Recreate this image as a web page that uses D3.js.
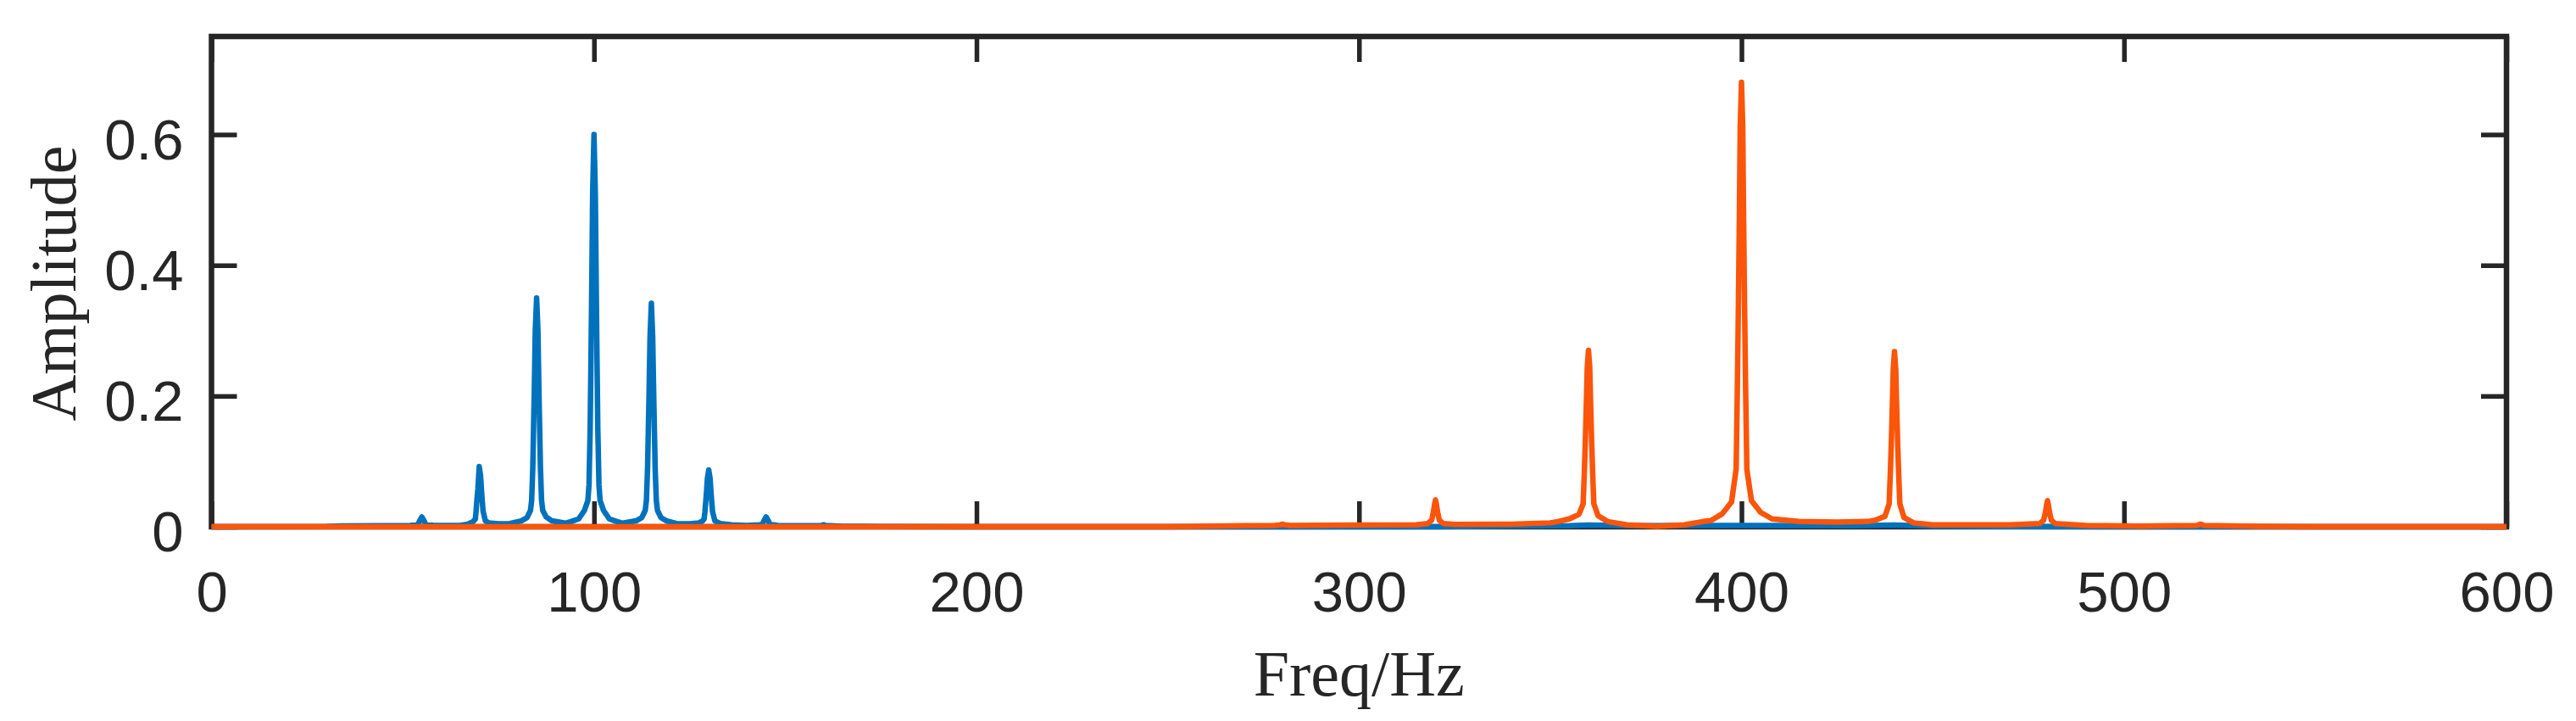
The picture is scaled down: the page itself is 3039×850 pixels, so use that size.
<!DOCTYPE html>
<html>
<head>
<meta charset="utf-8">
<script src="https://cdn.jsdelivr.net/npm/d3@7"></script>
<style>
	html, body { margin: 0; padding: 0; background: #fff; }
	svg { display: block; }
</style>
</head>
<body>
<div id="chart"></div>
<script>
// tick values
const xTicks = [0, 100, 200, 300, 400, 500, 600]
const yTicks = [0, 0.2, 0.4, 0.6]

// blue spectrum, [Hz, amplitude]
const blueSpectrum = [
	[0, 0], [30, 0.0003], [34, 0.0012], [45, 0.0015], [52, 0.002],
	[54, 0.004], [54.6, 0.011], [55, 0.015], [55.4, 0.011], [56, 0.004], [58, 0.002],
	[65, 0.002], [67, 0.004], [68.4, 0.008], [69, 0.012], [69.2, 0.026], [69.4, 0.042],
	[69.65, 0.058], [70, 0.092], [70.35, 0.078], [70.6, 0.055], [70.8, 0.039], [71, 0.024],
	[71.6, 0.009], [72.5, 0.006], [75, 0.0045], [78, 0.005],
	[81, 0.009], [82.5, 0.014], [83.4, 0.025], [83.7, 0.04], [84, 0.09], [84.2, 0.15],
	[84.4, 0.21], [84.65, 0.3], [85, 0.35], [85.35, 0.3], [85.6, 0.21], [85.8, 0.15],
	[86, 0.09], [86.3, 0.04], [86.6, 0.025], [87.5, 0.015], [89, 0.009], [92.5, 0.0055],
	[94, 0.008], [96, 0.012], [97.5, 0.025], [98.4, 0.04], [98.7, 0.064], [99, 0.15],
	[99.2, 0.25], [99.4, 0.36], [99.65, 0.51], [100, 0.6], [100.35, 0.51], [100.6, 0.36],
	[100.8, 0.25], [101, 0.15], [101.3, 0.064], [101.6, 0.04], [102.5, 0.025], [104, 0.012],
	[106, 0.008], [107.5, 0.0055],
	[111, 0.009], [112.5, 0.014], [113.4, 0.025], [113.7, 0.04], [114, 0.088], [114.2, 0.146],
	[114.4, 0.205], [114.65, 0.29], [115, 0.342], [115.35, 0.29], [115.6, 0.205], [115.8, 0.146],
	[116, 0.088], [116.3, 0.04], [116.6, 0.025], [117.5, 0.014], [119, 0.009], [122, 0.0045],
	[125, 0.0045], [127.5, 0.006], [128.4, 0.009], [128.8, 0.012], [129, 0.023], [129.2, 0.037],
	[129.4, 0.052], [129.65, 0.074], [130, 0.087], [130.35, 0.074], [130.6, 0.052], [130.8, 0.037],
	[131, 0.023], [131.6, 0.009], [133, 0.005], [136, 0.003], [140, 0.002],
	[143, 0.003], [144, 0.004], [144.6, 0.011], [145, 0.015], [145.4, 0.011], [146, 0.004],
	[148, 0.002], [155, 0.0015], [159.5, 0.002], [160, 0.003], [160.5, 0.002], [165, 0.0008],
	[175, 0.0003], [200, 0], [320, 0], [340, 0.001], [355, 0.0015], [360, 0.0025], [370, 0.0015],
	[400, 0.002], [430, 0.0015], [440, 0.0025], [450, 0.001], [470, 0.0003], [500, 0], [600, 0]
]

// orange spectrum, [Hz, amplitude]
const orangeSpectrum = [
	[0, 0], [250, 0], [270, 0.0015], [278, 0.002], [279.5, 0.003], [280, 0.004], [280.5, 0.003],
	[282, 0.002], [300, 0.0025], [315, 0.003], [318, 0.005], [319, 0.01], [319.5, 0.024],
	[319.75, 0.034], [320, 0.041], [320.25, 0.034], [320.5, 0.024], [321, 0.01], [322, 0.005],
	[325, 0.0035], [340, 0.004], [350, 0.006], [352, 0.008], [355, 0.012], [357.5, 0.019],
	[358.6, 0.035], [358.9, 0.08], [359.2, 0.135], [359.45, 0.19], [359.67, 0.243], [360, 0.27],
	[360.33, 0.243], [360.55, 0.19], [360.8, 0.135], [361.1, 0.08], [361.4, 0.035], [362.5, 0.017],
	[365, 0.008], [370, 0.003], [378, 0.0005], [385, 0.003], [390, 0.008],
	[392, 0.0095], [395, 0.02], [397.4, 0.038], [398.6, 0.088], [398.9, 0.204], [399.2, 0.34],
	[399.45, 0.476], [399.67, 0.612], [400, 0.68], [400.33, 0.612], [400.55, 0.476], [400.8, 0.34],
	[401.1, 0.204], [401.4, 0.088], [402.6, 0.04], [405, 0.022], [408, 0.012], [415, 0.008],
	[425, 0.007], [433, 0.008], [435, 0.01], [437.5, 0.016], [438.6, 0.035], [438.9, 0.08],
	[439.2, 0.134], [439.45, 0.188], [439.67, 0.241], [440, 0.268], [440.33, 0.241], [440.55, 0.188],
	[440.8, 0.134], [441.1, 0.08], [441.4, 0.035], [442.5, 0.014], [445, 0.006], [450, 0.003],
	[470, 0.003], [478, 0.005], [479, 0.01], [479.5, 0.023], [479.75, 0.033], [480, 0.04],
	[480.25, 0.033], [480.5, 0.023], [481, 0.01], [482, 0.005], [490, 0.002], [505, 0.001],
	[519, 0.002], [520, 0.004], [521, 0.002], [535, 0.0005], [550, 0], [600, 0]
]

const MARGIN = { TOP: 43, BOTTOM: 229, LEFT: 249.5, RIGHT: 82 }
const WIDTH = 3039 - MARGIN.LEFT - MARGIN.RIGHT
const HEIGHT = 850 - MARGIN.TOP - MARGIN.BOTTOM
const INK = "#262626"
const TICK = 30

const svg = d3.select("#chart")
	.append("svg")
		.attr("width", 3039)
		.attr("height", 850)

const g = svg.append("g")
	.attr("transform", `translate(${MARGIN.LEFT}, ${MARGIN.TOP})`)

const x = d3.scaleLinear()
	.domain([0, 600])
	.range([0, WIDTH])

const y = d3.scaleLinear()
	.domain([0, 0.75])
	.range([HEIGHT, 0])

// axes, ticks pointing inward like matlab
const xAxisCall = d3.axisBottom(x)
	.tickValues(xTicks)
	.tickSizeInner(-TICK)
	.tickSizeOuter(0)
	.tickPadding(52)
	.tickFormat(d3.format("d"))

const yAxisCall = d3.axisLeft(y)
	.tickValues(yTicks)
	.tickSizeInner(-TICK)
	.tickSizeOuter(0)
	.tickPadding(33)
	.tickFormat(d => d === 0 ? "0" : d3.format(".1f")(d))

const xAxisGroup = g.append("g")
	.attr("transform", `translate(0, ${HEIGHT})`)
	.call(xAxisCall)

const yAxisGroup = g.append("g")
	.call(yAxisCall)

const xTopGroup = g.append("g")
	.call(d3.axisTop(x).tickValues(xTicks).tickSizeInner(-TICK).tickSizeOuter(0).tickFormat(""))

const yRightGroup = g.append("g")
	.attr("transform", `translate(${WIDTH}, 0)`)
	.call(d3.axisRight(y).tickValues(yTicks).tickSizeInner(-TICK).tickSizeOuter(0).tickFormat(""))

g.selectAll(".domain").remove()
g.selectAll(".tick line")
	.attr("stroke", INK)
	.attr("stroke-width", 5.5)

g.selectAll(".tick text")
	.attr("fill", INK)
	.attr("font-family", "'Liberation Sans', Arial, sans-serif")
	.attr("font-size", "67px")

yAxisGroup.selectAll(".tick text")
	.attr("dy", "0.43em")

g.append("rect")
	.attr("x", 0)
	.attr("y", 0)
	.attr("width", WIDTH)
	.attr("height", HEIGHT)
	.attr("fill", "none")
	.attr("stroke", INK)
	.attr("stroke-width", 6.5)

// labels
g.append("text")
	.attr("x", WIDTH / 2)
	.attr("y", 820 - MARGIN.TOP)
	.attr("text-anchor", "middle")
	.attr("font-family", "'Liberation Serif', 'Times New Roman', serif")
	.attr("font-size", "76px")
	.attr("fill", INK)
	.text("Freq/Hz")

g.append("text")
	.attr("transform", `translate(${89 - MARGIN.LEFT}, ${HEIGHT / 2 + 2}) rotate(-90)`)
	.attr("text-anchor", "middle")
	.attr("font-family", "'Liberation Serif', 'Times New Roman', serif")
	.attr("font-size", "76px")
	.attr("fill", INK)
	.text("Amplitude")

// spectra, blue first then orange on top
const line = d3.line()
	.x(d => x(d[0]))
	.y(d => y(d[1]))

g.append("path")
	.datum(blueSpectrum)
	.attr("d", line)
	.attr("fill", "none")
	.attr("stroke", "#0072BD")
	.attr("stroke-width", 6.5)
	.attr("stroke-linejoin", "round")

g.append("path")
	.datum(orangeSpectrum)
	.attr("d", line)
	.attr("fill", "none")
	.attr("stroke", "#FA550A")
	.attr("stroke-width", 6.5)
	.attr("stroke-linejoin", "round")
</script>
</body>
</html>
